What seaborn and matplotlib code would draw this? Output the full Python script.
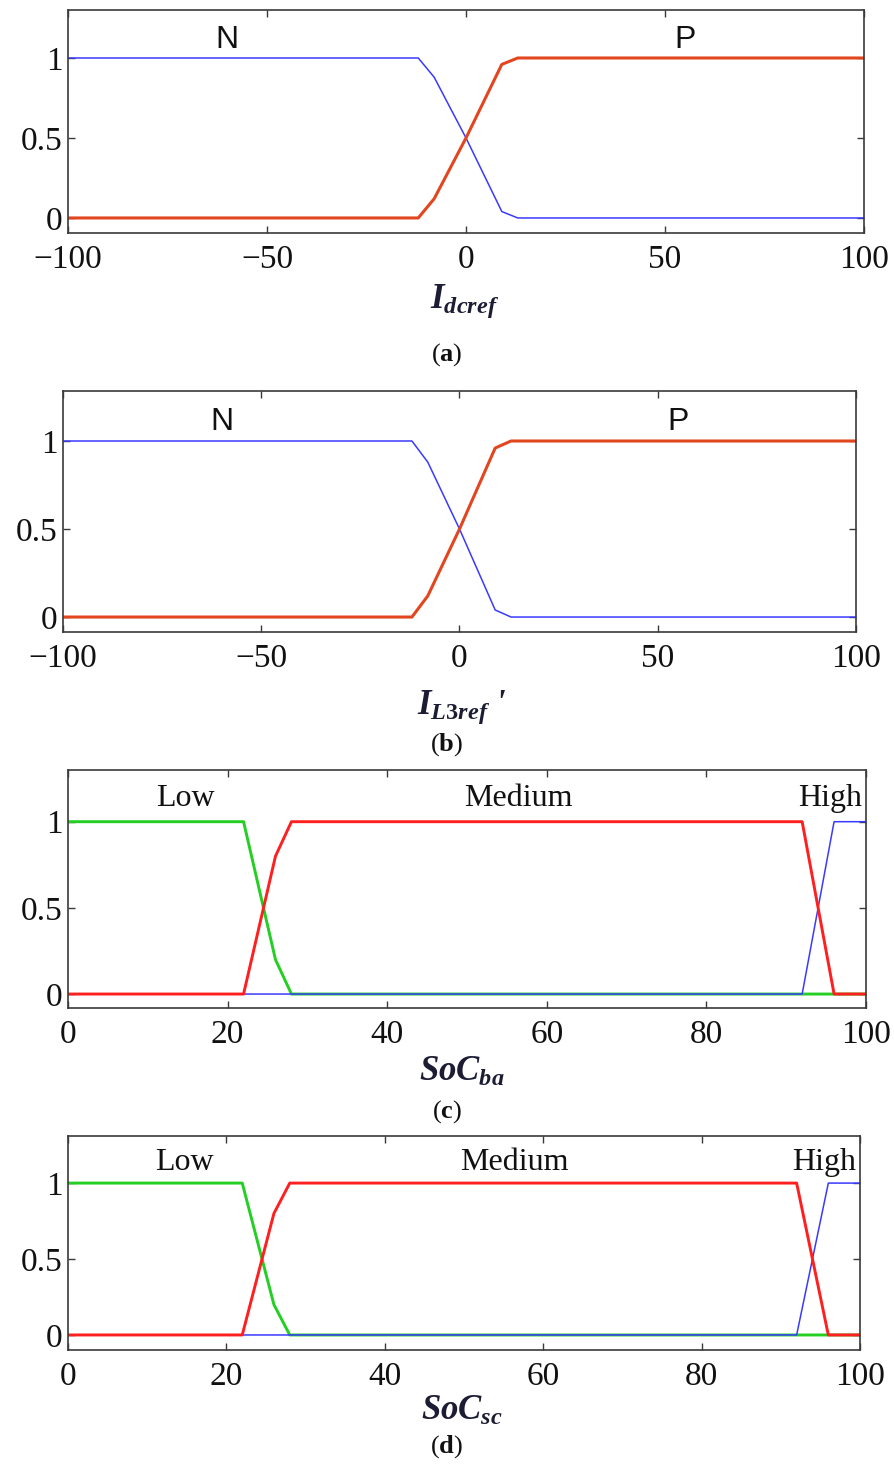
import matplotlib
matplotlib.use("Agg")
import matplotlib.pyplot as plt
import seaborn as sns
import pandas as pd

# ---------------- data ----------------
x_current = [-100, -12, -8, 0, 9, 13, 100]
mf_N = [1, 1, 0.88, 0.5, 0.04, 0, 0]
mf_P = [0, 0, 0.12, 0.5, 0.96, 1, 1]

x_soc = [0, 22, 26, 28, 92, 96, 100]
mf_low = [1, 1, 0.2, 0, 0, 0, 0]
mf_medium = [0, 0, 0.8, 1, 1, 0, 0]
mf_high = [0, 0, 0, 0, 0, 1, 1]

current_ticks = [-100, -50, 0, 50, 100]
current_ticklabels = ["\u2212100", "\u221250", "0", "50", "100"]
soc_ticks = [0, 20, 40, 60, 80, 100]
y_ticks = [0, 0.5, 1]
y_ticklabels = ["0", "0.5", "1"]

labels_np = ["N", "P"]
labels_np_x = [-60, 55]
labels_soc = ["Low", "Medium", "High"]
labels_soc_x = [14.7, 56.4, 95.5]

xlabels = [r"$I_{dcref}$", r"$I_{\mathit{L3ref}}$ '", r"$SoC_{ba}$", r"$SoC_{sc}$"]
captions = [r"($\mathbf{a}$)", r"($\mathbf{b}$)", r"($\mathbf{c}$)", r"($\mathbf{d}$)"]

# ---------------- style ----------------
sns.set_style("ticks")
plt.rcParams["font.family"] = ["Liberation Serif", "DejaVu Serif"]
plt.rcParams["mathtext.fontset"] = "custom"
plt.rcParams["mathtext.it"] = "Liberation Serif:italic:bold"
plt.rcParams["mathtext.rm"] = "Liberation Serif:bold"
plt.rcParams["mathtext.bf"] = "Liberation Serif:bold"

W, H = 894, 1465
fig = plt.figure(figsize=(W / 100, H / 100), dpi=100)

# pixel boxes: left, top, right, bottom
boxes = [(68, 10, 864, 233), (63, 391, 856, 632), (68, 770, 866, 1008), (68, 1136, 860, 1350)]
ylims = [(-0.094, 1.30), (-0.085, 1.284), (-0.081, 1.30), (-0.099, 1.31)]
xlabel_y = [301, 707, 1072, 1411]
xlabel_x = [465, 462, 462, 462]
caption_y = [355, 745, 1112, 1447]

RED_A = "#e2461f"
BLUE = "#3a3aff"
GREEN = "#22cf22"
RED_C = "#ff1f1f"
SPINE = "#3a3a3a"

def make_ax(i):
    l, t, r, b = boxes[i]
    ax = fig.add_axes([l / W, 1 - b / H, (r - l) / W, (b - t) / H])
    for s in ax.spines.values():
        s.set_visible(True)
        s.set_color(SPINE)
        s.set_linewidth(1.2)
    ax.tick_params(direction="in", top=True, right=True, length=5, width=1,
                   color=SPINE, labelsize=24, labelcolor="#111111")
    ax.tick_params(axis="x", pad=8)
    ax.tick_params(axis="y", pad=4)
    ax.set_ylim(*ylims[i])
    ax.set_yticks(y_ticks)
    ax.set_yticklabels(y_ticklabels)
    ax.set_facecolor("white")
    return ax

# panels (a), (b)
for i in range(2):
    ax = make_ax(i)
    df = pd.DataFrame({"x": x_current, "N": mf_N, "P": mf_P})
    sns.lineplot(data=df, x="x", y="N", ax=ax, color=BLUE, linewidth=1.1)
    sns.lineplot(data=df, x="x", y="P", ax=ax, color=RED_A, linewidth=2.2)
    ax.set_xlim(-100, 100)
    ax.set_xticks(current_ticks)
    ax.set_xticklabels(current_ticklabels)
    ax.set_xlabel("")
    ax.set_ylabel("")
    for lab, lx in zip(labels_np, labels_np_x):
        ax.text(lx, 1.11, lab, ha="center", va="center", fontsize=23,
                family=["Liberation Sans", "DejaVu Sans"], color="#111111")

# panels (c), (d)
for i in range(2, 4):
    ax = make_ax(i)
    df = pd.DataFrame({"x": x_soc, "low": mf_low, "med": mf_medium, "high": mf_high})
    sns.lineplot(data=df, x="x", y="low", ax=ax, color=GREEN, linewidth=2.1)
    sns.lineplot(data=df, x="x", y="high", ax=ax, color=BLUE, linewidth=1.1)
    sns.lineplot(data=df, x="x", y="med", ax=ax, color=RED_C, linewidth=2.1)
    ax.set_xlim(0, 100)
    ax.set_xticks(soc_ticks)
    ax.set_xticklabels([str(v) for v in soc_ticks])
    ax.set_xlabel("")
    ax.set_ylabel("")
    for lab, lx in zip(labels_soc, labels_soc_x):
        ax.text(lx, 1.135, lab, ha="center", va="center", fontsize=23, color="#111111")

# x labels and captions
for i in range(4):
    fig.text(xlabel_x[i] / W, 1 - xlabel_y[i] / H, xlabels[i], ha="center", va="center",
             fontsize=25, color="#1c1c34", family="Liberation Serif",
             style="italic", weight="bold")
    fig.text(447 / W, 1 - caption_y[i] / H, captions[i], ha="center", va="center",
             fontsize=19, color="#111111")

fig.savefig("out.png", dpi=100, facecolor="white")
